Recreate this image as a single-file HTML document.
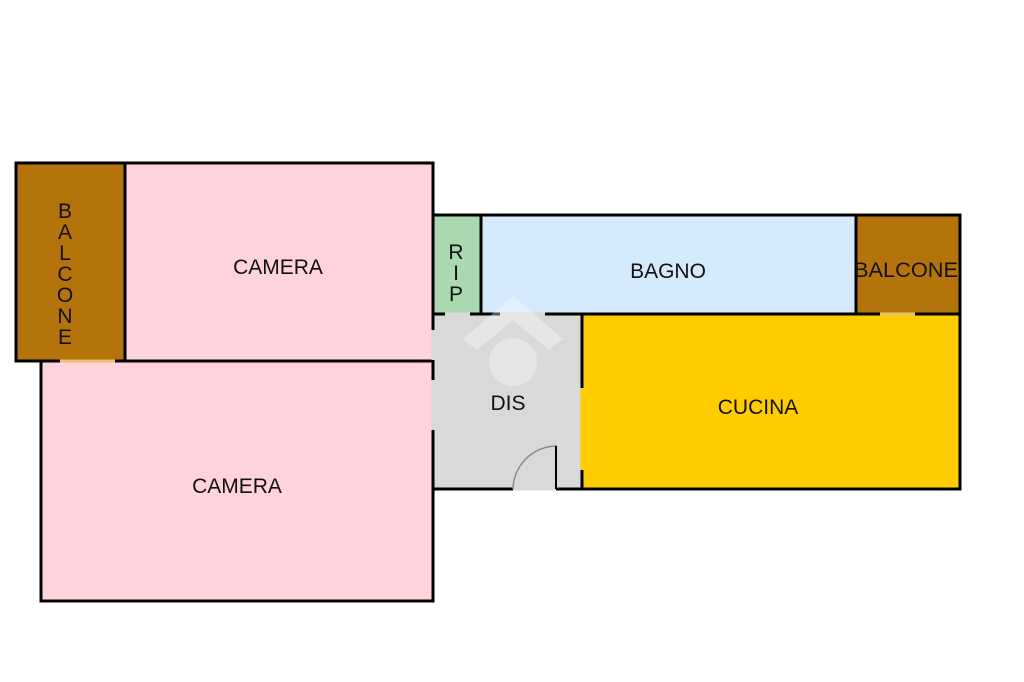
<!DOCTYPE html>
<html><head><meta charset="utf-8"><style>
html,body{margin:0;padding:0;background:#fff;width:1024px;height:682px;overflow:hidden}
svg text{font-family:"Liberation Sans",Arial,sans-serif;font-size:21px;fill:#111}
</style></head><body>
<svg width="1024" height="682" viewBox="0 0 1024 682" xmlns="http://www.w3.org/2000/svg">
<g stroke="#000" stroke-width="3">
<rect x="16" y="163" width="109" height="198" fill="#b5740b"/>
<rect x="125" y="163" width="308" height="198" fill="#ffd3dc"/>
<rect x="41" y="361" width="392" height="240" fill="#ffd3dc"/>
<rect x="433" y="215" width="48" height="99" fill="#a9d8b1"/>
<rect x="481" y="215" width="375" height="99" fill="#d5eafc"/>
<rect x="856" y="215" width="104" height="99" fill="#b5740b"/>
<rect x="433" y="314" width="149" height="175" fill="#d9d9d9"/>
<rect x="582" y="314" width="378" height="175" fill="#ffcc00"/>
</g>
<g stroke-width="3">
<line x1="433" y1="380" x2="433" y2="430" stroke="#d9d9d9"/>
<line x1="433" y1="330" x2="433" y2="360" stroke="#d9d9d9"/>
<line x1="582" y1="388" x2="582" y2="470" stroke="#ffcc00"/>
<line x1="513" y1="489" x2="556" y2="489" stroke="#d9d9d9"/>
<line x1="500" y1="314" x2="545" y2="314" stroke="#d9d9d9"/>
<line x1="445" y1="314" x2="470" y2="314" stroke="#d9d9d9"/>
<line x1="60" y1="361" x2="115" y2="361" stroke="#e8c070"/>
<line x1="880" y1="314" x2="915" y2="314" stroke="#e8c070"/>
</g>
<path d="M513 489 A44 44 0 0 1 556 446 L556 489" fill="none" stroke="#888" stroke-width="1.5"/>
<line x1="556" y1="446" x2="556" y2="489" stroke="#000" stroke-width="2"/>
<g fill="#fff" opacity="0.35">
<polygon points="513,296 563,339 549,350 513,320 477,350 463,339"/>
<circle cx="513" cy="362" r="24"/>
</g>
<text x="278" y="274" text-anchor="middle">CAMERA</text>
<text x="237" y="493" text-anchor="middle">CAMERA</text>
<text x="668" y="278" text-anchor="middle">BAGNO</text>
<text x="758" y="414" text-anchor="middle">CUCINA</text>
<text x="508" y="410" text-anchor="middle">DIS</text>
<text x="854" y="277" textLength="104" lengthAdjust="spacingAndGlyphs">BALCONE</text>
<g text-anchor="middle">
<text x="456" y="259">R</text><text x="456" y="280">I</text><text x="456" y="301">P</text>
<text x="65" y="218">B</text><text x="65" y="239">A</text><text x="65" y="260">L</text><text x="65" y="281">C</text><text x="65" y="302">O</text><text x="65" y="323">N</text><text x="65" y="344">E</text>
</g>
</svg>
</body></html>
